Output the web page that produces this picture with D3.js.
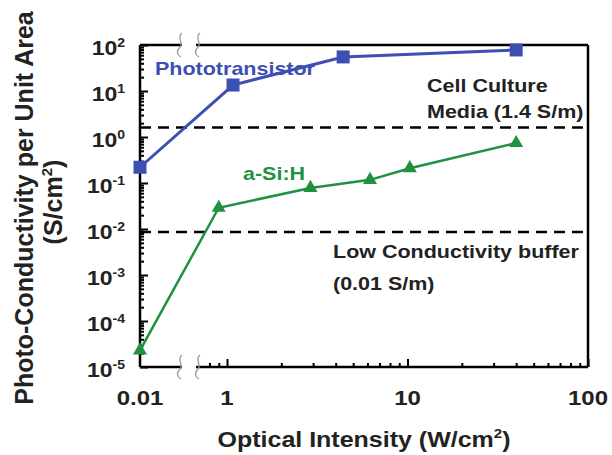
<!DOCTYPE html>
<html lang="en">
<head>
<meta charset="UTF-8">
<script src="https://d3js.org/d3.v7.min.js"></script>
<style>
  body { margin: 0; background: #fff; }
  text { font-family: "Liberation Sans", Arial, sans-serif; font-weight: bold; }
</style>
</head>
<body>
<script>
// data
const photoX = [0.01, 1.08, 4.4, 40];
const photoY = [0.22, 13.5, 55, 78];
const asiX = [0.01, 0.9, 2.9, 6.2, 10.3, 40];
const asiY = [2.3e-5, 0.029, 0.078, 0.117, 0.21, 0.74];
const refY = [1.6, 0.0086];
const yExp = [2, 1, 0, -1, -2, -3, -4, -5];
const xTicks = [1, 10, 100];
const xTickLabels = ["0.01", "1", "10", "100"];

const width = 612, height = 455;
const plotL = 140, plotR = 588, plotT = 45, plotB = 367;
const ink = "#222", blue = "#3d4fb3", green = "#1f9140";

const svg = d3.select("body").append("svg")
    .attr("width", width).attr("height", height);

// broken x axis: 0.01 sits on the left edge, main part is log from ~0.7 to 100
const xMain = d3.scaleLog().domain([1, 100]).range([227, plotR]);
const xLow = d3.scaleLog().domain([0.01, 0.1]).range([plotL, plotL + 180]);
const x = v => v >= 0.5 ? xMain(v) : xLow(v);
const y = d3.scaleLog().domain([1e-5, 1e2]).range([plotB, plotT]);

// squashed text helper (the source glyphs are wider than tall)
function label(g, px, py, txt, size, anchor, fill) {
  return g.append("text")
    .attr("transform", `translate(${px},${py}) scale(1,0.87)`)
    .attr("font-size", size)
    .attr("text-anchor", anchor || "start")
    .attr("fill", fill || ink)
    .text(txt);
}

// y ticks (inside)
const majorY = yExp.map(e => Math.pow(10, e));
const minorY = [];
for (let e = -5; e < 2; e++) for (let k = 2; k < 10; k++) minorY.push(k * Math.pow(10, e));

const yAxisMajor = svg.append("g").attr("transform", `translate(${plotL},0)`)
  .call(d3.axisRight(y).tickValues(majorY).tickSize(8).tickFormat(""));
const yAxisMinor = svg.append("g").attr("transform", `translate(${plotL},0)`)
  .call(d3.axisRight(y).tickValues(minorY).tickSize(4).tickFormat(""));

// x ticks (inside)
const minorX = [0.8, 0.9];
for (let k = 2; k < 10; k++) { minorX.push(k); minorX.push(k * 10); }
const xAxisMajor = svg.append("g").attr("transform", `translate(0,${plotB})`)
  .call(d3.axisTop(xMain).tickValues(xTicks).tickSize(8).tickFormat(""));
const xAxisMinor = svg.append("g").attr("transform", `translate(0,${plotB})`)
  .call(d3.axisTop(xMain).tickValues(minorX).tickSize(4).tickFormat(""));

[yAxisMajor, yAxisMinor, xAxisMajor, xAxisMinor].forEach(a => {
  a.select(".domain").remove();
  a.selectAll("line").attr("stroke", "#000").attr("stroke-width", 2);
});

// frame with gaps for the break
const gapA = 182, gapB = 196;
const frame = [
  [plotL, plotT, plotL, plotB], [plotR, plotT, plotR, plotB],
  [plotL, plotT, gapA, plotT], [gapB, plotT, plotR, plotT],
  [plotL, plotB, gapA, plotB], [gapB, plotB, plotR, plotB]
];
svg.append("g").selectAll("line").data(frame).join("line")
  .attr("x1", d => d[0]).attr("y1", d => d[1])
  .attr("x2", d => d[2]).attr("y2", d => d[3])
  .attr("stroke", "#000").attr("stroke-width", 2.5);

// break squiggles
const squig = [];
[plotT, plotB].forEach(yy => [180, 198].forEach(xx => squig.push([xx, yy])));
svg.append("g").selectAll("path").data(squig).join("path")
  .attr("d", d => `M${d[0] + 2},${d[1] - 12} C${d[0] - 4},${d[1] - 8} ${d[0] + 4},${d[1] - 2} ${d[0]},${d[1] + 2} S${d[0] - 3},${d[1] + 10} ${d[0] + 1},${d[1] + 12}`)
  .attr("fill", "none").attr("stroke", "#999").attr("stroke-width", 1.3);

// reference dashed lines
svg.append("g").selectAll("line").data(refY).join("line")
  .attr("x1", plotL).attr("x2", plotR)
  .attr("y1", d => y(d)).attr("y2", d => y(d))
  .attr("stroke", "#000").attr("stroke-width", 2.5)
  .attr("stroke-dasharray", "11,7");

// series
const line = d3.line().x(d => x(d[0])).y(d => y(d[1]));
const photo = photoX.map((v, i) => [v, photoY[i]]);
const asi = asiX.map((v, i) => [v, asiY[i]]);

svg.append("path").datum(asi).attr("d", line)
  .attr("fill", "none").attr("stroke", green).attr("stroke-width", 2.5);
svg.append("path").datum(photo).attr("d", line)
  .attr("fill", "none").attr("stroke", blue).attr("stroke-width", 3);

svg.append("g").selectAll("path").data(asi).join("path")
  .attr("transform", d => `translate(${x(d[0])},${y(d[1])})`)
  .attr("d", d3.symbol(d3.symbolTriangle, 85))
  .attr("fill", green);
svg.append("g").selectAll("rect").data(photo).join("rect")
  .attr("x", d => x(d[0]) - 6.5).attr("y", d => y(d[1]) - 6.5)
  .attr("width", 13).attr("height", 13)
  .attr("fill", blue);

// y tick labels
const yl = svg.append("g");
yExp.forEach(e => {
  const t = label(yl, 125, y(Math.pow(10, e)) + 10, "10", 23, "end");
  t.append("tspan").attr("font-size", 14).attr("dy", -9).text(e);
});

// x tick labels
const xl = svg.append("g");
[0.01, 1, 10, 100].forEach((v, i) => label(xl, x(v), 405, xTickLabels[i], 24, "middle"));

// axis titles
const xt = label(svg, 364, 447, "Optical Intensity (W/cm", 25, "middle");
xt.append("tspan").attr("font-size", 15).attr("dy", -10).text("2");
xt.append("tspan").attr("dy", 10).text(")");

const yt = svg.append("g").attr("transform", "translate(33,208) rotate(-90)");
yt.append("text").attr("text-anchor", "middle").attr("font-size", 25).attr("fill", ink)
  .text("Photo-Conductivity per Unit Area");
const yt2 = svg.append("g").attr("transform", "translate(62,202) rotate(-90)")
  .append("text").attr("text-anchor", "middle").attr("font-size", 25).attr("fill", ink)
  .text("(S/cm");
yt2.append("tspan").attr("font-size", 15).attr("dy", -10).text("2");
yt2.append("tspan").attr("dy", 10).text(")");

// annotations
label(svg, 155, 75, "Phototransistor", 21.5, "start", blue);
label(svg, 243, 180, "a-Si:H", 21.5, "start", green);
label(svg, 427, 92, "Cell Culture", 21.5);
label(svg, 427, 118, "Media (1.4 S/m)", 21.5);
label(svg, 333, 258, "Low Conductivity buffer", 21.5);
label(svg, 333, 290, "(0.01 S/m)", 21.5);
</script>
</body>
</html>
